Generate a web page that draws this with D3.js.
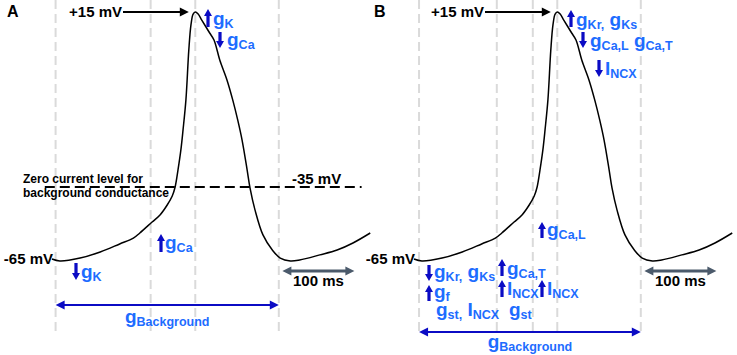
<!DOCTYPE html>
<html lang="en">
<head>
<meta charset="utf-8" />
<title>Action potential and conductances</title>
<script src="https://cdnjs.cloudflare.com/ajax/libs/d3/7.8.5/d3.min.js"></script>
<style>
    body { margin: 0; background: #fff; }
    text { font-family: "Liberation Sans", Arial, sans-serif; font-weight: bold; }
</style>
</head>
<body>
<script>
    // Membrane potential trace (same trace drawn in both panels)
    const timeMs = [0, 11, 39, 67, 94, 113, 122, 139, 150, 160, 167, 171, 175, 179, 182, 186, 190, 193, 196, 199,
        203, 208, 219, 225, 233, 243, 251, 258, 264, 271, 275, 282, 293, 306, 317, 331, 344, 372, 396, 418, 442];
    const voltageMv = [-64.6, -65.4, -64.2, -61.7, -58.4, -56.0, -53.9, -49.4, -46.5, -42.4, -38.7, -35, -30.1, -24.4, -18.7, -10.1, 4.1, 11.3, 14.4, 15,
        14.4, 12.7, 9.0, 7.0, 1.3, -4.4, -10.1, -15.9, -21.6, -30.1, -35.4, -44.5, -54.7, -60.9, -64.2, -65.4, -65, -62.9, -60.9, -58.0, -53.9];

    // Phase boundaries (ms)
    const markersA = [5, 137, 199, 315];
    const markersB = [7, 115, 165, 199, 315];

    const peakMv = 15, restMv = -65, zeroCurrentMv = -35;
    const scaleBarMs = 100, scaleBarStart = 320;

    const width = 737, height = 355;
    const blueText = "#1d6cff", blueArrow = "#0b0bc4";

    const svg = d3.select("body").append("svg")
        .attr("width", width).attr("height", height);

    // scales: 100 ms = 72 px, voltage is schematic (piecewise)
    const x = d3.scaleLinear().domain([0, 100]).range([0, 72]);
    const y = d3.scaleLinear().domain([-65, -35, 15]).range([260, 187, 12]);

    const line = d3.line()
        .x((d, i) => x(timeMs[i]))
        .y(d => y(d))
        .curve(d3.curveCatmullRom.alpha(0.5));

    function vArrow(g, xx, y1, y2, dir) {
        const hl = 7, hw = 4, sw = 1.6;
        let p;
        if (dir === "up") {
            p = `M${xx - sw},${y2} L${xx - sw},${y1 + hl} L${xx - hw},${y1 + hl} L${xx},${y1} L${xx + hw},${y1 + hl} L${xx + sw},${y1 + hl} L${xx + sw},${y2} Z`;
        } else {
            p = `M${xx - sw},${y1} L${xx - sw},${y2 - hl} L${xx - hw},${y2 - hl} L${xx},${y2} L${xx + hw},${y2 - hl} L${xx + sw},${y2 - hl} L${xx + sw},${y1} Z`;
        }
        g.append("path").attr("d", p).attr("fill", blueArrow);
    }

    function hArrow(g, x1, x2, yy, color, sw, hl, hw, both) {
        g.append("line")
            .attr("x1", both ? x1 + hl - 1 : x1).attr("x2", x2 - hl + 1)
            .attr("y1", yy).attr("y2", yy)
            .attr("stroke", color).attr("stroke-width", sw);
        g.append("path").attr("d", `M${x2},${yy} L${x2 - hl},${yy - hw} L${x2 - hl},${yy + hw} Z`).attr("fill", color);
        if (both) g.append("path").attr("d", `M${x1},${yy} L${x1 + hl},${yy - hw} L${x1 + hl},${yy + hw} Z`).attr("fill", color);
    }

    // label made of [text, isSubscript] parts
    function richLabel(g, tx, ty, parts, anchor) {
        const t = g.append("text").attr("x", tx).attr("y", ty)
            .attr("fill", blueText).attr("text-anchor", anchor || "start");
        let shift = 0;
        parts.forEach(([s, sub]) => {
            const target = sub ? 3 : 0;
            t.append("tspan")
                .attr("dy", target - shift)
                .style("font-size", sub ? "12.5px" : "19px")
                .text(s);
            shift = target;
        });
    }

    const annotationsA = [
        { ax: 156, y1: 9, y2: 27, dir: "up", tx: 161, ty: 25, parts: [["g"], ["K", 1]] },
        { ax: 168, y1: 32, y2: 48, dir: "down", tx: 175, ty: 46, parts: [["g"], ["Ca", 1]] },
        { ax: 24, y1: 263, y2: 280, dir: "down", tx: 29, ty: 278, parts: [["g"], ["K", 1]] },
        { ax: 109, y1: 234, y2: 252, dir: "up", tx: 113, ty: 249, parts: [["g"], ["Ca", 1]] }
    ];
    const annotationsB = [
        { ax: 157, y1: 10, y2: 27, dir: "up", tx: 162, ty: 26, parts: [["g"], ["Kr,", 1], [" g"], ["Ks", 1]] },
        { ax: 169, y1: 32, y2: 48, dir: "down", tx: 176, ty: 47, parts: [["g"], ["Ca,L", 1], [" g"], ["Ca,T", 1]] },
        { ax: 185, y1: 60, y2: 77, dir: "down", tx: 191, ty: 75, parts: [["I"], ["NCX", 1]] },
        { ax: 128, y1: 222, y2: 238, dir: "up", tx: 133, ty: 236, parts: [["g"], ["Ca,L", 1]] },
        { ax: 15, y1: 265, y2: 281, dir: "down", tx: 20, ty: 278, parts: [["g"], ["Kr,", 1], [" g"], ["Ks", 1]] },
        { ax: 15, y1: 285, y2: 301, dir: "up", tx: 20, ty: 298, parts: [["g"], ["f", 1]] },
        { tx: 22, ty: 316, parts: [["g"], ["st,", 1], [" I"], ["NCX", 1]] },
        { ax: 88, y1: 259, y2: 276, dir: "up", tx: 93, ty: 275, parts: [["g"], ["Ca,T", 1]] },
        { ax: 88, y1: 280, y2: 297, dir: "up", tx: 93, ty: 295, parts: [["I"], ["NCX", 1]] },
        { ax: 128, y1: 280, y2: 297, dir: "up", tx: 133, ty: 295, parts: [["I"], ["NCX", 1]] },
        { tx: 95, ty: 316, parts: [["g"], ["st", 1]] }
    ];

    const panels = [
        { id: "A", x0: 52, markers: markersA, notes: annotationsA, bgY: 305, bgTextY: 323, zeroLine: true },
        { id: "B", x0: 414, markers: markersB, notes: annotationsB, bgY: 332, bgTextY: 348, zeroLine: false }
    ];

    panels.forEach(p => {
        const g = svg.append("g").attr("transform", `translate(${p.x0},0)`);

        // grey dashed phase boundaries
        g.selectAll(".phase").data(p.markers).join("line")
            .attr("class", "phase")
            .attr("x1", d => x(d)).attr("x2", d => x(d))
            .attr("y1", 0).attr("y2", 333)
            .attr("stroke", "#dadada").attr("stroke-width", 2)
            .attr("stroke-dasharray", "9,5");

        if (p.zeroLine) {
            g.append("line")
                .attr("x1", x(-10)).attr("x2", x(430))
                .attr("y1", y(zeroCurrentMv)).attr("y2", y(zeroCurrentMv))
                .attr("stroke", "#000").attr("stroke-width", 2)
                .attr("stroke-dasharray", "10,5");
            g.append("text").attr("x", -29).attr("y", 183).style("font-size", "12px")
                .text("Zero current level for");
            g.append("text").attr("x", -29).attr("y", 197).style("font-size", "12px")
                .text("background conductance");
            g.append("text").attr("x", 240).attr("y", 184).style("font-size", "15px")
                .text(zeroCurrentMv + " mV");
        }

        // AP trace
        g.append("path").datum(voltageMv)
            .attr("d", line)
            .attr("fill", "none").attr("stroke", "#000").attr("stroke-width", 1.5);

        // panel letter
        g.append("text").attr("x", p.id === "A" ? -45 : -40).attr("y", 17)
            .style("font-size", "16px").text(p.id);

        // +15 mV marker
        g.append("text").attr("x", 70).attr("y", 17).attr("text-anchor", "end")
            .style("font-size", "15px").text("+" + peakMv + " mV");
        hArrow(g, 71, x(190), y(peakMv), "#000", 2, 9, 4.5, false);

        // resting level
        g.append("text").attr("x", 1).attr("y", 264).attr("text-anchor", "end")
            .style("font-size", "15px").text(restMv + " mV");

        // 100 ms scale bar
        hArrow(g, x(scaleBarStart), x(scaleBarStart + scaleBarMs), 271, "#4b5a6b", 3, 9, 4.5, true);
        g.append("text").attr("x", x(scaleBarStart + scaleBarMs / 2)).attr("y", 286)
            .attr("text-anchor", "middle").style("font-size", "15px").text(scaleBarMs + " ms");

        // background conductance span
        const m0 = x(p.markers[0]), m1 = x(p.markers[p.markers.length - 1]);
        hArrow(g, m0, m1, p.bgY, blueArrow, 2, 9, 4.5, true);
        richLabel(g, (m0 + m1) / 2, p.bgTextY, [["g"], ["Background", 1]], "middle");

        // conductance annotations
        p.notes.forEach(n => {
            if (n.dir) vArrow(g, n.ax, n.y1, n.y2, n.dir);
            richLabel(g, n.tx, n.ty, n.parts);
        });
    });
</script>
</body>
</html>
